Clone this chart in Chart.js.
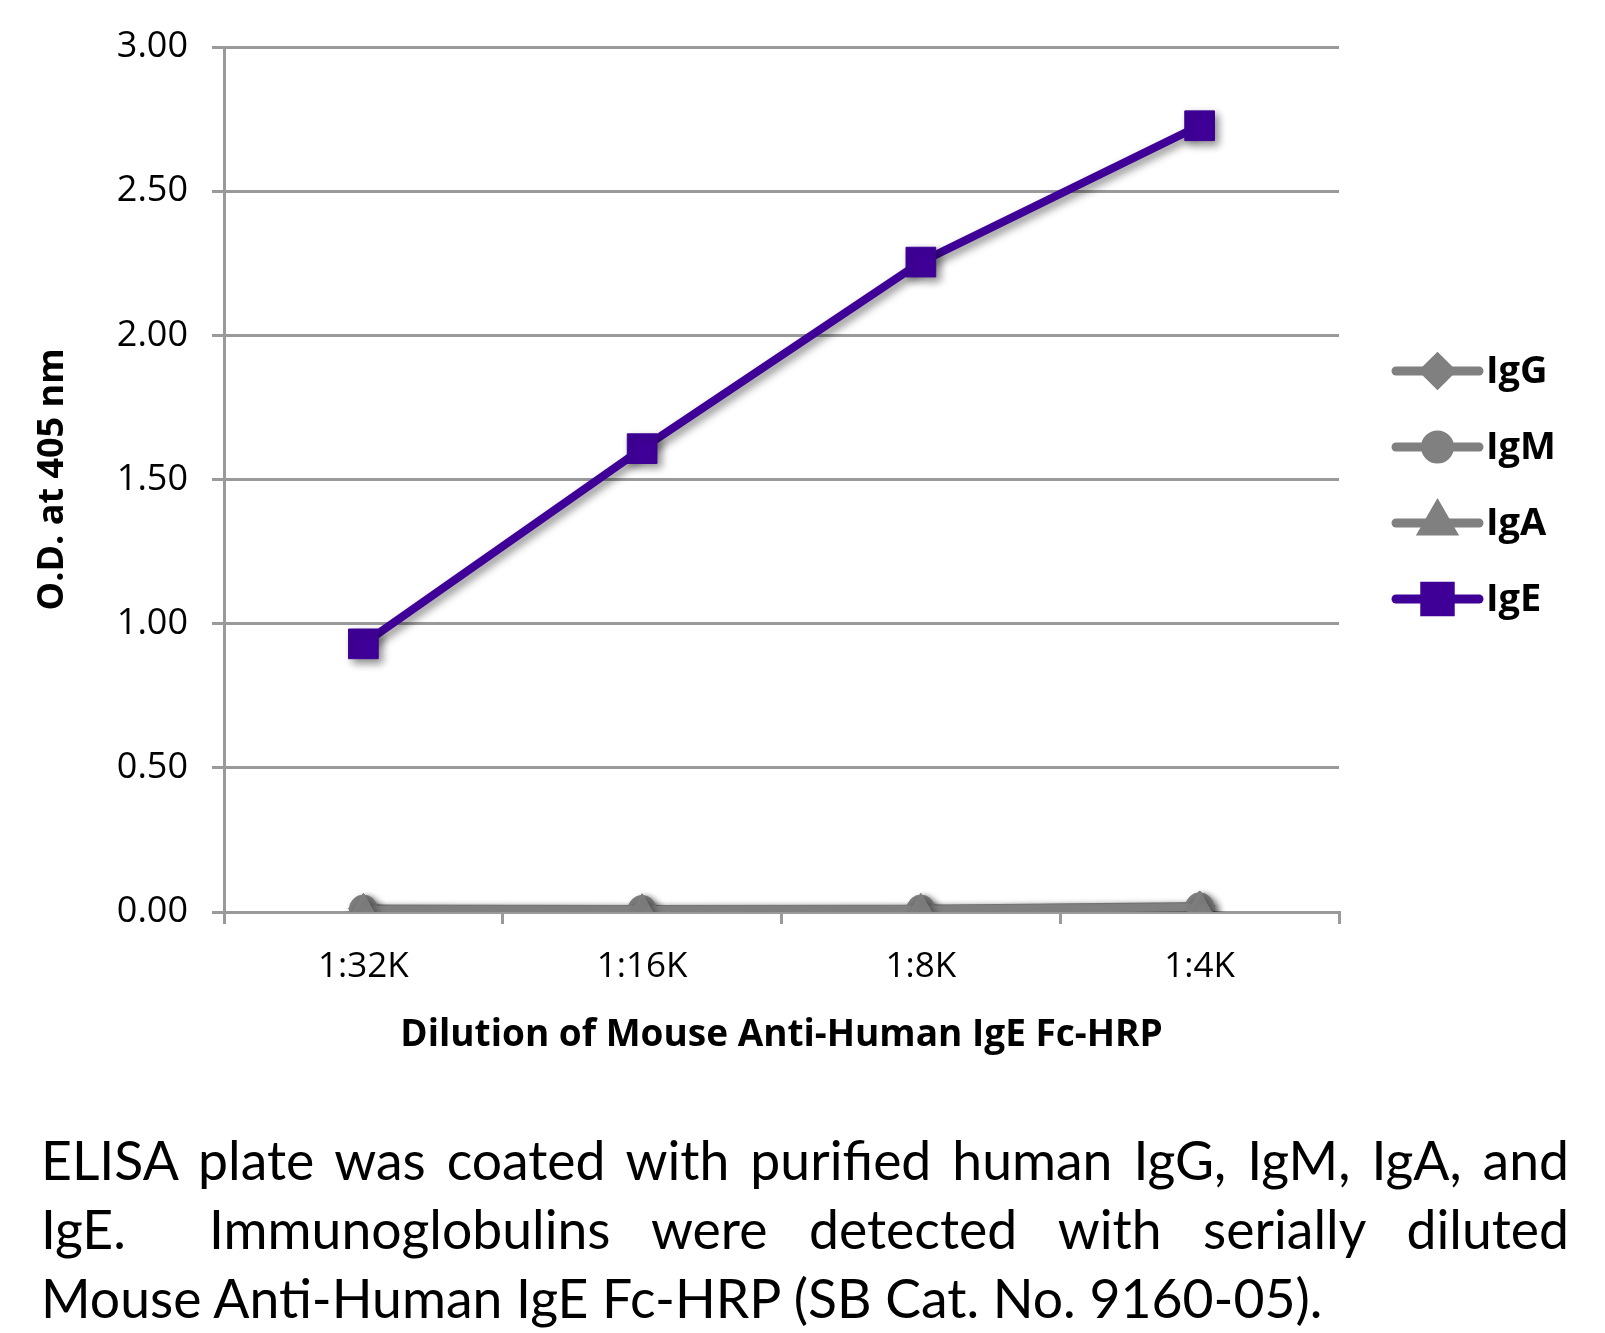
<!DOCTYPE html>
<html>
<head>
<meta charset="utf-8">
<script src="https://cdn.jsdelivr.net/npm/chart.js@4"></script>
<style>
  body { margin: 0; background: #fff; width: 1605px; height: 1333px; overflow: hidden; }
  #wrap { position: absolute; left: 0; top: 0; width: 1605px; height: 1070px; }
  #caption { position: absolute; left: 41px; top: 1125px; width: 1528px;
    font-family: Lato, sans-serif; font-size: 53.5px; line-height: 69px; color: #000; }
  #caption div { white-space: nowrap; }
  #caption .j { text-align: justify; text-align-last: justify; white-space: normal; }
</style>
</head>
<body>
<div id="wrap"><canvas id="myChart"></canvas></div>
<div id="caption">
  <div class="j">ELISA plate was coated with purified human IgG, IgM, IgA, and</div>
  <div class="j">IgE.&nbsp; Immunoglobulins were detected with serially diluted</div>
  <div>Mouse Anti-Human IgE Fc-HRP (SB Cat. No. 9160-05).</div>
</div>
<script>
var dilutions = ['1:32K', '1:16K', '1:8K', '1:4K'];
var igG = [0.012, 0.010, 0.011, 0.021];
var igM = [0.010, 0.009, 0.010, 0.018];
var igA = [0.008, 0.008, 0.009, 0.016];
var igE = [0.93, 1.607, 2.254, 2.727];
var yTicks = [0, 0.5, 1, 1.5, 2, 2.5, 3];

var gray = '#808080';
var purple = '#3f0098';

// soft drop shadow under the series, like the office chart
var shadowPlugin = {
  id: 'shadow',
  beforeDatasetsDraw: function(chart) {
    var ctx = chart.ctx;
    ctx.save();
    ctx.shadowColor = 'rgba(0,0,0,0.45)';
    ctx.shadowBlur = 8;
    ctx.shadowOffsetX = 4;
    ctx.shadowOffsetY = 4;
  },
  afterDatasetsDraw: function(chart) {
    chart.ctx.restore();
  }
};

// legend with a line through the marker
var lineLegend = {
  id: 'lineLegend',
  afterDraw: function(chart) {
    var ctx = chart.ctx;
    var x1 = 1396, x2 = 1479, y0 = 371, step = 76;
    chart.data.datasets.forEach(function(ds, i) {
      var y = y0 + i * step;
      ctx.save();
      ctx.strokeStyle = ds.borderColor;
      ctx.lineWidth = 9;
      ctx.lineCap = 'round';
      ctx.beginPath();
      ctx.moveTo(x1, y);
      ctx.lineTo(x2, y);
      ctx.stroke();
      ctx.fillStyle = ds.backgroundColor;
      ctx.strokeStyle = ds.backgroundColor;
      Chart.helpers.drawPoint(ctx, {
        pointStyle: ds.pointStyle,
        radius: ds.legendRadius,
        rotation: 0,
        borderWidth: 1
      }, (x1 + x2) / 2, y);
      ctx.fillStyle = '#000';
      ctx.font = 'bold 38px "Open Sans"';
      ctx.textBaseline = 'middle';
      ctx.fillText(ds.label, 1486, y + 1);
      ctx.restore();
    });
  }
};

function series(label, data, color, style, radius, legendRadius, order) {
  return {
    label: label,
    data: data,
    borderColor: color,
    backgroundColor: color,
    borderWidth: 8,
    pointStyle: style,
    pointRadius: radius,
    pointHoverRadius: radius,
    pointBorderWidth: 1,
    legendRadius: legendRadius,
    order: order,
    tension: 0
  };
}

var ctx = document.getElementById('myChart');

var lineChart = new Chart(ctx, {
  type: 'line',
  data: {
    labels: dilutions,
    datasets: [
      series('IgG', igG, gray, 'rectRot', 15, 13, 3),
      series('IgM', igM, gray, 'circle', 14, 12, 2),
      series('IgA', igA, gray, 'triangle', 16, 16, 1),
      series('IgE', igE, purple, 'rect', 21, 18, 0)
    ]
  },
  options: {
    responsive: true,
    maintainAspectRatio: false,
    animation: false,
    events: [],
    layout: { padding: { left: 0, top: 47, right: 266, bottom: 0 } },
    plugins: {
      legend: { display: false },
      tooltip: { enabled: false }
    },
    scales: {
      x: {
        offset: true,
        afterFit: function(scale) { scale.height = 158; },
        grid: {
          offset: true,
          drawOnChartArea: false,
          drawTicks: true,
          tickLength: 12,
          color: '#9a9a9a',
          lineWidth: 3
        },
        border: { display: true, color: '#9a9a9a', width: 3 },
        ticks: {
          color: '#000',
          padding: 22,
          font: { family: 'Open Sans', size: 35 }
        },
        title: {
          display: true,
          text: 'Dilution of Mouse Anti-Human IgE Fc-HRP',
          color: '#000',
          padding: { top: 0, bottom: 12 },
          font: { family: 'Open Sans', size: 37, weight: 'bold' }
        }
      },
      y: {
        min: 0,
        max: 3,
        afterFit: function(scale) { scale.width = 224; },
        afterBuildTicks: function(scale) {
          scale.ticks = yTicks.map(function(v) { return { value: v }; });
        },
        grid: {
          color: '#9a9a9a',
          lineWidth: 3,
          drawTicks: true,
          tickLength: 12
        },
        border: { display: true, color: '#9a9a9a', width: 3 },
        ticks: {
          color: '#000',
          padding: 24,
          font: { family: 'Open Sans', size: 36 },
          callback: function(v) { return Number(v).toFixed(2); }
        },
        title: {
          display: true,
          text: 'O.D. at 405 nm',
          color: '#000',
          padding: { top: 31, bottom: 0 },
          font: { family: 'Open Sans', size: 36, weight: 'bold' }
        }
      }
    }
  },
  plugins: [shadowPlugin, lineLegend]
});
</script>
</body>
</html>
